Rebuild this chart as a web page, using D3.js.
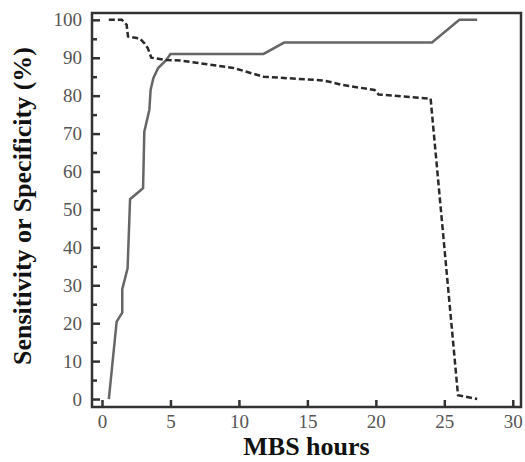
<!DOCTYPE html>
<html>
  <head>
    <meta charset="utf-8">
    <title></title>
    <script src="https://cdn.jsdelivr.net/npm/d3@7"></script>
    <style>
      body { margin: 0; background: #fff; }
      .tick text { font-family: "Liberation Serif", serif; font-size: 19px; fill: #555; }
      .title { font-family: "Liberation Serif", serif; font-weight: bold; font-size: 26px; fill: #111; }
    </style>
  </head>
  <body>
    <script type="text/javascript">

    // MBS hours vs sensitivity (solid) and specificity (dashed)
    var sensHours = [0.5, 1.07, 1.48, 1.48, 1.87, 2.05, 3.0, 3.09, 3.46, 3.55, 3.75, 4.1, 4.7, 5.0, 11.8, 13.3, 24.1, 26.1, 27.4];
    var sensValues = [0, 20.4, 22.8, 29, 34.5, 52.7, 55.6, 70.5, 76.3, 81.5, 84.6, 87.3, 89.4, 91, 91, 94, 94, 100, 100];

    var specHours = [0.5, 1.45, 1.8, 1.9, 2.75, 3.1, 3.35, 3.6, 4.7, 5.7, 9.6, 11.8, 16.2, 17.6, 19.9, 20.2, 24.0, 26.0, 27.4];
    var specValues = [100, 100, 98.7, 95.6, 95.1, 93.8, 92.5, 90, 89.4, 89.3, 87.3, 85, 84, 82.8, 81.5, 80.3, 79.2, 1, 0];

    var xTicks = [0, 5, 10, 15, 20, 25, 30];
    var yTicks = [0, 10, 20, 30, 40, 50, 60, 70, 80, 90, 100];
    var yMinor = [5, 15, 25, 35, 45, 55, 65, 75, 85, 95];

    var width = 525,
        height = 462;

    // plot frame (window.top is taken, so p-prefixed names)
    var pLeft = 92, pRight = 521, pTop = 13, pBottom = 407;

    var x = d3.scaleLinear()
        .domain([-0.73, 30.6])
        .range([pLeft, pRight]);

    var y = d3.scaleLinear()
        .domain([-2.1, 101.8])
        .range([pBottom, pTop]);

    var svg = d3.select("body").append("svg")
        .attr("width", width)
        .attr("height", height);

    // y axis, ticks pointing inward
    svg.append("g")
        .attr("transform", "translate(" + pLeft + ",0)")
        .call(d3.axisLeft(y).tickValues(yTicks).tickSize(-8).tickPadding(10));

    svg.append("g")
        .attr("transform", "translate(" + pLeft + ",0)")
        .call(d3.axisLeft(y).tickValues(yMinor).tickSize(-5).tickFormat(""));

    svg.append("g")
        .attr("transform", "translate(0," + pBottom + ")")
        .call(d3.axisBottom(x).tickValues(xTicks).tickSize(-7).tickPadding(8));

    svg.selectAll(".domain").remove();
    svg.selectAll(".tick line")
        .attr("stroke", "#333")
        .attr("stroke-width", 2.5);

    // frame
    svg.append("rect")
        .attr("x", pLeft)
        .attr("y", pTop)
        .attr("width", pRight - pLeft)
        .attr("height", pBottom - pTop)
        .attr("fill", "none")
        .attr("stroke", "#333")
        .attr("stroke-width", 2.5);

    var line = d3.line()
        .x(function(d) { return x(d[0]); })
        .y(function(d) { return y(d[1]); });

    svg.append("path")
        .datum(d3.zip(sensHours, sensValues))
        .attr("fill", "none")
        .attr("stroke", "#666")
        .attr("stroke-width", 2.5)
        .attr("d", line);

    svg.append("path")
        .datum(d3.zip(specHours, specValues))
        .attr("fill", "none")
        .attr("stroke", "#2a2a2a")
        .attr("stroke-width", 2.5)
        .attr("stroke-dasharray", "6,3")
        .attr("d", line);

    svg.append("text")
        .attr("class", "title")
        .attr("x", (pLeft + pRight) / 2)
        .attr("y", 455)
        .attr("text-anchor", "middle")
        .text("MBS hours");

    svg.append("text")
        .attr("class", "title")
        .attr("transform", "translate(31,206) rotate(-90)")
        .attr("text-anchor", "middle")
        .text("Sensitivity or Specificity (%)");

    </script>
  </body>
</html>
